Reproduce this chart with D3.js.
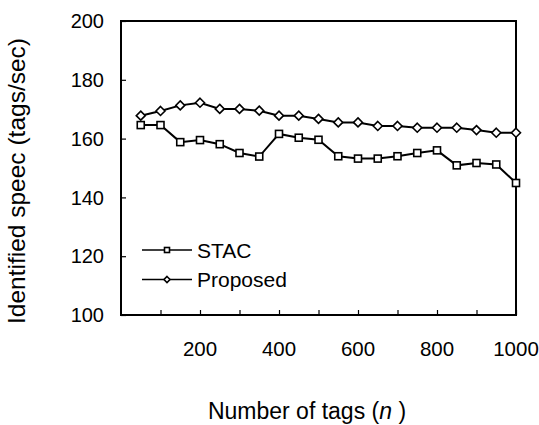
<!DOCTYPE html>
<html>
<head>
<meta charset="utf-8">
<script src="https://cdn.jsdelivr.net/npm/d3@7"></script>
<style>
  body { margin: 0; background: #fff; }
  text { font-family: Arial, "Liberation Sans", sans-serif; fill: #000; }
</style>
</head>
<body>
<svg id="chart" width="539" height="425"></svg>
<script>
const tagCounts = [50, 100, 150, 200, 250, 300, 350, 400, 450, 500,
  550, 600, 650, 700, 750, 800, 850, 900, 950, 1000];
const stacSpeed = [164.6, 164.6, 158.8, 159.5, 158.1, 155.1, 153.9, 161.6, 160.3, 159.6,
  154.0, 153.2, 153.2, 154.0, 155.1, 156.0, 150.9, 151.7, 151.2, 144.9];
const proposedSpeed = [167.8, 169.4, 171.3, 172.2, 170.1, 170.1, 169.5, 167.8, 167.8, 166.7,
  165.5, 165.5, 164.3, 164.3, 163.7, 163.7, 163.7, 162.9, 162.0, 162.0];
const xTickValues = [100, 200, 300, 400, 500, 600, 700, 800, 900, 1000];
const xTickLabels = [200, 400, 600, 800, 1000];
const yTickValues = [100, 120, 140, 160, 180, 200];
const seriesNames = ['STAC', 'Proposed'];

const svg = d3.select('#chart');
const plotLeft = 121, plotRight = 516, plotTop = 21, plotBottom = 315;

const x = d3.scaleLinear().domain([0, 1000]).range([plotLeft, plotRight]);
const y = d3.scaleLinear().domain([100, 200]).range([plotBottom, plotTop]);

// frame
svg.append('rect')
  .attr('x', plotLeft).attr('y', plotTop)
  .attr('width', plotRight - plotLeft).attr('height', plotBottom - plotTop)
  .attr('fill', 'none').attr('stroke', '#000').attr('stroke-width', 2);

// y axis, ticks pointing inward
const yAxis = svg.append('g')
  .attr('transform', `translate(${plotLeft},0)`)
  .call(d3.axisRight(y).tickValues(yTickValues).tickSize(5).tickFormat(''));
yAxis.select('.domain').remove();
yAxis.selectAll('line').attr('stroke', '#000').attr('stroke-width', 1.2);

svg.selectAll('.ylab')
  .data(yTickValues)
  .enter().append('text')
  .attr('class', 'ylab')
  .attr('x', plotLeft - 17)
  .attr('y', d => y(d))
  .attr('dy', '0.36em')
  .attr('text-anchor', 'end')
  .style('font-size', '20px')
  .text(d => d);

// x axis, ticks pointing inward
const xAxis = svg.append('g')
  .attr('transform', `translate(0,${plotBottom})`)
  .call(d3.axisTop(x).tickValues(xTickValues).tickSize(5).tickFormat(''));
xAxis.select('.domain').remove();
xAxis.selectAll('line').attr('stroke', '#000').attr('stroke-width', 1.2);

svg.selectAll('.xlab')
  .data(xTickLabels)
  .enter().append('text')
  .attr('class', 'xlab')
  .attr('x', d => x(d))
  .attr('y', plotBottom + 41)
  .attr('text-anchor', 'middle')
  .style('font-size', '20.5px')
  .text(d => d);

// axis titles
svg.append('text')
  .attr('x', 307)
  .attr('y', 419)
  .attr('text-anchor', 'middle')
  .style('font-size', '23px')
  .html('Number of tags&#160;(<tspan font-style="italic">n</tspan>&#160;)');

svg.append('text')
  .attr('transform', `translate(25,181) rotate(-90)`)
  .attr('text-anchor', 'middle')
  .style('font-size', '24.5px')
  .text('Identified speec (tags/sec)');

// series
const line = d3.line().x((d, i) => x(tagCounts[i])).y(d => y(d));

const drawSquare = (sel, size) => sel.append('rect')
  .attr('x', -size / 2).attr('y', -size / 2)
  .attr('width', size).attr('height', size)
  .attr('fill', '#fff').attr('stroke', '#000').attr('stroke-width', 1.6);

const drawDiamond = (sel, size) => sel.append('path')
  .attr('d', `M0,${-size / 2}L${size / 2},0L0,${size / 2}L${-size / 2},0Z`)
  .attr('fill', '#fff').attr('stroke', '#000').attr('stroke-width', 1.6);

[stacSpeed, proposedSpeed].forEach((vals, k) => {
  svg.append('path')
    .datum(vals)
    .attr('d', line)
    .attr('fill', 'none')
    .attr('stroke', '#000')
    .attr('stroke-width', 2);

  const marks = svg.selectAll('.m' + k)
    .data(vals)
    .enter().append('g')
    .attr('class', 'm' + k)
    .attr('transform', (d, i) => `translate(${x(tagCounts[i])},${y(d)})`);
  if (k === 0) drawSquare(marks, 7);
  else drawDiamond(marks, 9);
});

// legend
const legend = svg.append('g');
seriesNames.forEach((name, k) => {
  const ly = 250 + k * 29.5;
  legend.append('line')
    .attr('x1', 142).attr('x2', 192)
    .attr('y1', ly).attr('y2', ly)
    .attr('stroke', '#000').attr('stroke-width', 1.6);
  const g = legend.append('g').attr('transform', `translate(167,${ly})`);
  if (k === 0) drawSquare(g, 5);
  else drawDiamond(g, 6);
  legend.append('text')
    .attr('x', 197)
    .attr('y', ly)
    .attr('dy', '0.36em')
    .style('font-size', '21px')
    .text(name);
});
</script>
</body>
</html>
